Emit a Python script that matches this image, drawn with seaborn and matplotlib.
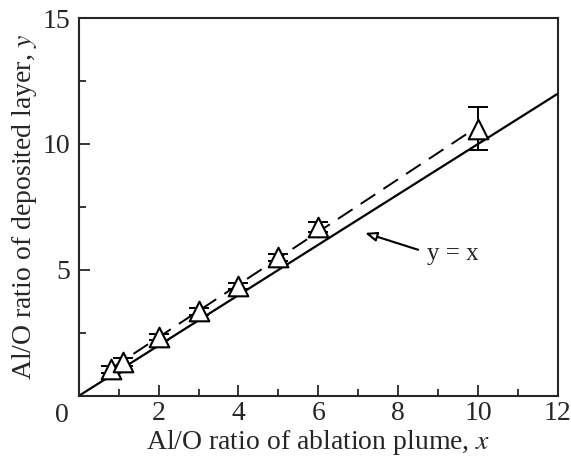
import numpy as np
import pandas as pd
import seaborn as sns
import matplotlib
matplotlib.use("Agg")
import matplotlib.pyplot as plt
from matplotlib.ticker import MultipleLocator

# Al/O ratio: plume (x) vs deposited layer (y)
plume_ratio = [0.8, 1.1, 2.0, 3.0, 4.0, 5.0, 6.0, 10.0]
layer_ratio = [1.05, 1.35, 2.35, 3.35, 4.35, 5.5, 6.7, 10.6]
layer_err = [0.15, 0.15, 0.12, 0.12, 0.12, 0.15, 0.2, 0.85]

# reference line y = x
ref_x = [0, 12]
ref_y = [0, 12]

df = pd.DataFrame({"x": plume_ratio, "y": layer_ratio, "err": layer_err})

sns.set_style("ticks")
plt.rcParams["font.family"] = ["Liberation Serif", "DejaVu Serif"]
plt.rcParams["mathtext.fontset"] = "stix"

fig = plt.figure(figsize=(5.71, 4.63), dpi=100)
ax = fig.add_axes([0.138, 0.145, 0.839, 0.816])

# y = x line
sns.lineplot(x=ref_x, y=ref_y, ax=ax, color="black", lw=1.6)

# dashed fit through the data
sns.regplot(data=df, x="x", y="y", ax=ax, ci=None, scatter=False, truncate=True,
            line_kws={"color": "black", "lw": 1.4, "ls": (0, (9, 5))})

# data with error bars
ax.errorbar(df["x"], df["y"], yerr=df["err"], fmt="none", ecolor="black",
            elinewidth=1.4, capsize=7, capthick=1.4)
sns.scatterplot(data=df, x="x", y="y", ax=ax, marker="^", s=200,
                facecolor="white", edgecolor="black", linewidth=1.5, zorder=5)

ax.annotate("", xy=(7.17, 6.47), xytext=(8.5, 5.8),
            arrowprops=dict(arrowstyle="-|>,head_length=0.7,head_width=0.28",
                            color="black", lw=1.5, shrinkA=0, shrinkB=0,
                            fc="white"))
ax.text(8.72, 5.4, "y = x", fontsize=18, ha="left", va="baseline")

ax.set_xlim(0, 12)
ax.set_ylim(0, 15)
ax.xaxis.set_major_locator(MultipleLocator(2))
ax.xaxis.set_minor_locator(MultipleLocator(1))
ax.yaxis.set_major_locator(MultipleLocator(5))
ax.yaxis.set_minor_locator(MultipleLocator(2.5))
ax.tick_params(which="both", direction="in", top=False, right=False,
               labelsize=20, width=1.3)
ax.tick_params(axis="x", pad=4)
ax.tick_params(axis="y", pad=6)
ax.tick_params(which="major", length=8)
ax.tick_params(which="minor", length=5)
ax.set_yticks([5, 10, 15])
ax.set_xticks([0, 2, 4, 6, 8, 10, 12])
ax.set_xticklabels(["", "2", "4", "6", "8", "10", "12"])
ax.text(-0.02, -0.02, "0", transform=ax.transAxes, ha="right", va="top", fontsize=20)

for sp in ax.spines.values():
    sp.set_linewidth(1.5)

ax.set_xlabel("Al/O ratio of ablation plume, $\\mathit{x}$", fontsize=20, labelpad=1)
ax.set_ylabel("Al/O ratio of deposited layer, $\\mathit{y}$", fontsize=20, labelpad=3)

fig.savefig("out.png", dpi=100)
